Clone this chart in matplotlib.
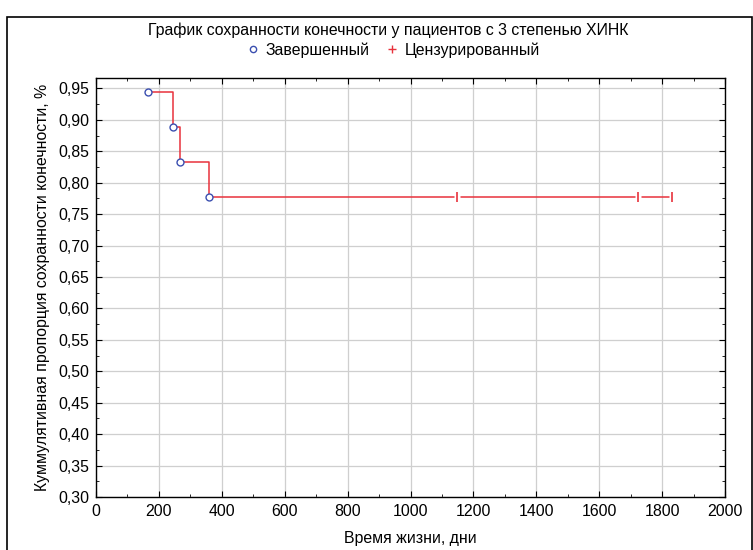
import matplotlib
matplotlib.use("Agg")
import matplotlib.pyplot as plt
from matplotlib.patches import Rectangle
from matplotlib.ticker import MultipleLocator, FuncFormatter
from matplotlib.lines import Line2D

plt.rcParams['font.family'] = ['Liberation Sans', 'DejaVu Sans']

# event times (days) and survival after each event
event_t = [165, 244, 266, 360]
event_s = [0.944, 0.889, 0.833, 0.778]
# censored times
cens_t = [1148, 1723, 1831]
cens_s = [0.778, 0.778, 0.778]

RED = '#e8323c'
BLUE = '#3b4fb0'
FS = 11.4

fig = plt.figure(figsize=(7.53, 5.5), dpi=100)
ax = fig.add_axes([96/753, 53/550, 629/753, 419/550])

# step line
xs, ys = [event_t[0]], [event_s[0]]
for i in range(1, len(event_t)):
    xs += [event_t[i], event_t[i]]
    ys += [event_s[i-1], event_s[i]]
xs.append(cens_t[-1])
ys.append(event_s[-1])
ax.plot(xs, ys, color=RED, lw=1.1, zorder=3)

ax.plot(event_t, event_s, 'o', ms=5, mfc='white', mec=BLUE, mew=1.0,
        ls='none', zorder=4)
# white gap around censored ticks, then the tick itself
ax.plot(cens_t, cens_s, 's', ms=5, mfc='white', mec='none', ls='none', zorder=4)
ax.plot(cens_t, cens_s, '|', ms=7, color=RED, mew=1.2, ls='none', zorder=5)

ax.set_xlim(0, 2000)
ax.set_ylim(0.30, 0.9665)
ax.xaxis.set_major_locator(MultipleLocator(200))
ax.xaxis.set_minor_locator(MultipleLocator(100))
ax.yaxis.set_major_locator(MultipleLocator(0.05))
ax.yaxis.set_minor_locator(MultipleLocator(0.025))
ax.yaxis.set_major_formatter(FuncFormatter(lambda v, p: f"{v:.2f}".replace('.', ',')))
ax.tick_params(which='both', direction='in', top=True, right=True,
               labelsize=FS, color='black')
ax.tick_params(which='major', length=4, pad=5)
ax.tick_params(which='minor', length=2)
ax.grid(True, which='major', color='#cfcfcf', lw=0.9)
ax.set_axisbelow(True)
for sp in ax.spines.values():
    sp.set_linewidth(1.0)

ax.set_xlabel("Время жизни, дни", fontsize=FS, labelpad=9)
ax.set_ylabel("Куммулятивная пропорция сохранности конечности, %", fontsize=FS,
              labelpad=6)

fig.text(388/753, 1 - 30/550, "График сохранности конечности у пациентов с 3 степенью ХИНК",
         ha='center', va='center', fontsize=FS)

handles = [Line2D([], [], marker='o', ls='none', ms=4.5, mfc='white', mec=BLUE),
           Line2D([], [], marker='+', ls='none', ms=6, color=RED)]
fig.legend(handles, ["Завершенный", "Цензурированный"], loc='center',
           bbox_to_anchor=(392.5/753, 1 - 50/550), ncol=2, frameon=False,
           fontsize=FS, handletextpad=0.3, columnspacing=0.9, handlelength=1.0,
           borderpad=0.0)

fig.patches.append(Rectangle((7/753, -0.05), 745/753, 1 - 17/550 + 0.05,
                             transform=fig.transFigure, fill=False,
                             edgecolor='black', lw=1.2))

fig.savefig("out.png", dpi=100)
